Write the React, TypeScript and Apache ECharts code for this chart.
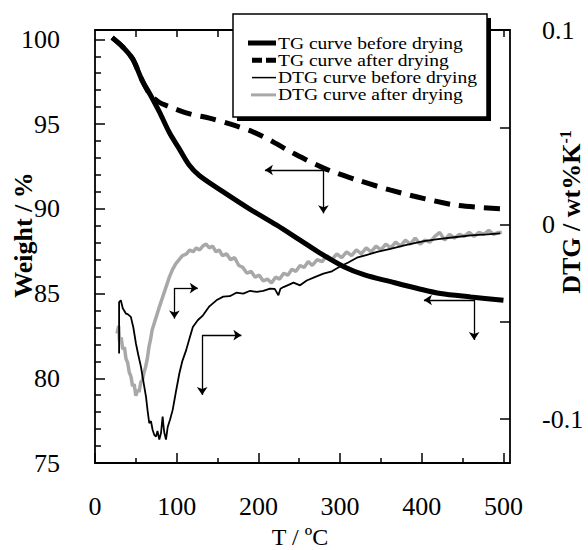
import React, { useEffect, useRef } from "react";
import * as echarts from "echarts";

// ---- data (T in °C) ----
const tgBeforeT = [21, 34, 46, 58, 68, 79, 91, 103, 115, 128, 157, 189, 222, 251, 275, 304, 330, 362, 395, 423, 460, 500];
const tgBeforeW = [100.1, 99.55, 98.85, 97.55, 96.7, 95.7, 94.5, 93.55, 92.6, 91.95, 91.0, 90.0, 89.05, 88.15, 87.4, 86.6, 86.1, 85.7, 85.3, 85.0, 84.8, 84.6];

const tgAfterT = [21, 34, 46, 58, 68, 78, 87, 116, 140, 169, 193, 218, 242, 280, 321, 362, 403, 444, 498];
const tgAfterW = [100.1, 99.55, 98.85, 97.55, 96.7, 96.3, 96.1, 95.6, 95.35, 94.95, 94.55, 93.95, 93.3, 92.4, 91.7, 91.1, 90.6, 90.2, 90.0];

const dtgBeforeT = [29.5, 29.5, 31.6, 34, 37.8, 40, 43.9, 47, 50.1, 53, 56.2, 59, 62.4, 64.5, 66.4, 68.5, 70.5, 72.5, 74.7, 76.5, 78.7, 80.8, 82, 82.8, 84, 84.9, 86.9, 89, 92, 95.1, 99, 103.3, 107, 111.6, 116, 119.8, 126, 132.2, 140, 148.6, 157, 165, 173, 181.4, 190, 197.9, 206, 214.3, 220, 224.5, 227, 230.7, 237, 243, 251, 259.2, 269, 279.6, 290, 300, 310, 320.6, 333, 345.3, 361.6, 380, 402.6, 420, 440, 460, 480, 496];
const dtgBeforeD = [-0.0662, -0.0398, -0.0389, -0.043, -0.0457, -0.046, -0.0474, -0.053, -0.0611, -0.067, -0.073, -0.08, -0.0884, -0.096, -0.102, -0.101, -0.1054, -0.108, -0.1089, -0.106, -0.1105, -0.1071, -0.102, -0.0986, -0.104, -0.107, -0.1105, -0.104, -0.1, -0.0952, -0.086, -0.0764, -0.07, -0.0645, -0.058, -0.0526, -0.049, -0.0466, -0.042, -0.0389, -0.037, -0.0368, -0.035, -0.0355, -0.034, -0.0346, -0.034, -0.0329, -0.033, -0.0363, -0.033, -0.0321, -0.031, -0.0298, -0.0312, -0.0287, -0.027, -0.0252, -0.024, -0.0215, -0.0195, -0.017, -0.0155, -0.014, -0.0125, -0.0105, -0.0085, -0.0075, -0.0065, -0.0055, -0.005, -0.0045];

const dtgAfterT = [27, 29, 30, 32, 34, 36, 38, 40, 42, 44, 46, 48, 50, 52, 54, 56, 58, 60, 62, 64, 66, 68, 70, 73, 76, 79, 83, 87, 91, 95, 99, 103, 107, 112, 116, 120, 124, 128, 132, 136, 140, 144, 148, 152, 156, 161, 166, 171, 176, 181, 186, 191, 196, 201, 206, 211, 216, 221, 226, 231, 236, 241, 246, 251, 256, 261, 266, 272, 278, 284, 290, 296, 302, 308, 314, 320, 326, 332, 338, 344, 350, 356, 362, 368, 374, 380, 386, 392, 398, 404, 410, 416, 422, 428, 434, 440, 446, 452, 458, 464, 470, 476, 482, 488, 494, 498];
const dtgAfterD = [-0.056, -0.052, -0.06, -0.058, -0.064, -0.063, -0.069, -0.071, -0.076, -0.078, -0.083, -0.082, -0.088, -0.085, -0.086, -0.081, -0.08, -0.076, -0.073, -0.069, -0.063, -0.059, -0.054, -0.05, -0.046, -0.042, -0.037, -0.032, -0.027, -0.023, -0.02, -0.018, -0.016, -0.015, -0.013, -0.014, -0.012, -0.013, -0.011, -0.01, -0.012, -0.011, -0.014, -0.013, -0.016, -0.015, -0.018, -0.017, -0.021, -0.022, -0.025, -0.024, -0.027, -0.026, -0.029, -0.028, -0.03, -0.027, -0.028, -0.025, -0.026, -0.023, -0.024, -0.021, -0.022, -0.019, -0.021, -0.018, -0.019, -0.016, -0.018, -0.015, -0.017, -0.014, -0.016, -0.013, -0.015, -0.012, -0.014, -0.011, -0.013, -0.01, -0.012, -0.009, -0.011, -0.008, -0.01, -0.007, -0.01, -0.008, -0.009, -0.006, -0.004, -0.008, -0.005, -0.007, -0.005, -0.006, -0.004, -0.006, -0.004, -0.005, -0.003, -0.005, -0.004, -0.004];

// ---- ticks ----
const xMajorTicks = [0, 100, 200, 300, 400, 500];
const xMinorTicks = [50, 150, 250, 350, 450];
const xTopTicks = [50, 100, 150, 200, 250, 300, 350, 400, 450, 500];
const wMajorTicks = [75, 80, 85, 90, 95, 100];
const wMinorTicks = [76, 77, 78, 79, 81, 82, 83, 84, 86, 87, 88, 89, 91, 92, 93, 94, 96, 97, 98, 99];
const dTicks = [-0.1, -0.05, 0, 0.05, 0.1];
const dLabels = [-0.1, 0, 0.1];

// ---- annotation arrows [from, to] in data units ----
const arrowTGAfter = [[[279.6, 92.29], [208, 92.29]], [[279.6, 92.48], [279.6, 89.73]]];
const arrowTGBefore = [[[464.1, 84.62], [402.6, 84.62]], [[464.1, 84.62], [464.1, 82.26]]];
const arrowDTGAfter = [[[97.2, -0.0326], [97.2, -0.0483]], [[97.2, -0.0326], [125.8, -0.0326]]];
const arrowDTGBefore = [[[131.2, -0.0568], [131.2, -0.0875]], [[131.2, -0.0568], [179.2, -0.0568]]];

const names = ["TG curve before drying", "TG curve after drying", "DTG curve before drying", "DTG curve after drying"];

const FONT = "Liberation Serif";
const GRAY = "#a8a8a8";

const zip = (a: number[], b: number[]) => a.map((v, i) => [v, b[i]]);

const arrows = (list: number[][][]) => ({
  silent: true,
  symbol: ["none", "arrow"],
  symbolSize: 8,
  label: { show: false },
  emphasis: { disabled: true },
  lineStyle: { color: "#000", width: 1.3, type: "solid" },
  data: list.map((seg) => [{ coord: seg[0] }, { coord: seg[1] }]),
});

// legend drawn as graphic: sample line styles per entry
const legendSamples = [
  { stroke: "#000", lineWidth: 5, lineDash: null as number[] | null, x1: 248 },
  { stroke: "#000", lineWidth: 5, lineDash: [10, 4], x1: 252 },
  { stroke: "#000", lineWidth: 1.5, lineDash: null, x1: 252 },
  { stroke: GRAY, lineWidth: 3, lineDash: null, x1: 251 },
];

export default function App() {
  const ref = useRef<HTMLDivElement>(null);
  useEffect(() => {
    const chart = echarts.init(ref.current!, null, { renderer: "svg" });
    const axisLine = { show: true, onZero: false, lineStyle: { color: "#000", width: 1.8 } };
    const noLine = { show: false, onZero: false };
    const tickStyle = { color: "#000", width: 1.5 };

    const legendTop = 43;
    const legendStep = 17.3;
    const legendGraphics: any[] = [];
    names.forEach((n, i) => {
      const y = legendTop + i * legendStep;
      const s = legendSamples[i];
      legendGraphics.push({
        type: "line", z: 7,
        shape: { x1: s.x1, y1: y, x2: 276, y2: y },
        style: { stroke: s.stroke, lineWidth: s.lineWidth, lineDash: s.lineDash || undefined },
      });
      legendGraphics.push({
        type: "text", z: 7, x: 278, y, scaleX: 1.15,
        style: { text: n, font: `17px ${FONT}`, fill: "#000", align: "left", verticalAlign: "middle" },
      });
    });

    const option: any = {
      animation: false,
      backgroundColor: "#fff",
      textStyle: { fontFamily: FONT },
      grid: { left: 95, right: 78, top: 30, bottom: 87, containLabel: false },
      xAxis: [
        {
          type: "value", min: 0, max: 508, position: "bottom",
          axisLine,
          axisTick: { show: true, inside: true, length: 10, customValues: xMajorTicks, lineStyle: tickStyle },
          axisLabel: { show: true, customValues: xMajorTicks, margin: 30, fontSize: 26, color: "#000", fontFamily: FONT },
          splitLine: { show: false },
        },
        {
          type: "value", min: 0, max: 508, position: "bottom",
          axisLine: noLine,
          axisTick: { show: true, inside: true, length: 5, customValues: xMinorTicks, lineStyle: tickStyle },
          axisLabel: { show: false },
          splitLine: { show: false },
        },
        {
          type: "value", min: 0, max: 508, position: "top",
          axisLine,
          axisTick: { show: true, inside: true, length: 7, customValues: xTopTicks, lineStyle: tickStyle },
          axisLabel: { show: false },
          splitLine: { show: false },
        },
      ],
      yAxis: [
        {
          type: "value", min: 75, max: 100.55, position: "left",
          axisLine,
          axisTick: { show: true, inside: true, length: 10, customValues: wMajorTicks, lineStyle: tickStyle },
          axisLabel: { show: true, customValues: wMajorTicks, margin: 35, fontSize: 26, color: "#000", fontFamily: FONT },
          splitLine: { show: false },
        },
        {
          type: "value", min: 75, max: 100.55, position: "left",
          axisLine: noLine,
          axisTick: { show: true, inside: true, length: 6, customValues: wMinorTicks, lineStyle: tickStyle },
          axisLabel: { show: false },
          splitLine: { show: false },
        },
        {
          type: "value", min: -0.1225, max: 0.1, position: "right",
          axisLine,
          axisTick: { show: true, inside: true, length: 10, customValues: dTicks, lineStyle: tickStyle },
          axisLabel: {
            show: true, customValues: dLabels, margin: 32, fontSize: 26, color: "#000", fontFamily: FONT,
            formatter: (v: number) => (Math.abs(v) < 1e-9 ? "0" : String(Math.round(v * 10) / 10)),
          },
          splitLine: { show: false },
        },
      ],
      graphic: [
        { type: "rect", z: 5, shape: { x: 237, y: 18, width: 254, height: 103 }, style: { fill: "#000" } },
        { type: "rect", z: 6, shape: { x: 233, y: 14, width: 254, height: 103 }, style: { fill: "#fff", stroke: "#000", lineWidth: 1.5 } },
        ...legendGraphics,
        {
          type: "text", z: 6, x: 23, y: 235, rotation: Math.PI / 2,
          style: { text: "Weight / %", font: `bold 26px ${FONT}`, fill: "#000", align: "center", verticalAlign: "middle" },
        },
        {
          type: "text", z: 6, x: 571, y: 212, rotation: Math.PI / 2,
          style: {
            text: "{a|DTG / wt%K}{b|-1}", fill: "#000", align: "center", verticalAlign: "middle",
            rich: {
              a: { fontFamily: FONT, fontWeight: "bold", fontSize: 26, fill: "#000", lineHeight: 28 },
              b: { fontFamily: FONT, fontWeight: "bold", fontSize: 16, fill: "#000", verticalAlign: "top", lineHeight: 28 },
            },
          },
        },
        {
          type: "text", z: 6, x: 300, y: 537,
          style: { text: "T / ºC", font: `24px ${FONT}`, fill: "#000", align: "center", verticalAlign: "middle" },
        },
      ],
      series: [
        {
          name: names[0], type: "line", xAxisIndex: 0, yAxisIndex: 0, symbol: "none", smooth: 0.3,
          data: zip(tgBeforeT, tgBeforeW), z: 3,
          lineStyle: { color: "#000", width: 5 }, itemStyle: { color: "#000" },
          markLine: arrows(arrowTGBefore),
        },
        {
          name: names[1], type: "line", xAxisIndex: 0, yAxisIndex: 0, symbol: "none", smooth: 0.3,
          data: zip(tgAfterT, tgAfterW), z: 3,
          lineStyle: { color: "#000", width: 5, type: [16, 9] }, itemStyle: { color: "#000" },
          markLine: arrows(arrowTGAfter),
        },
        {
          name: names[2], type: "line", xAxisIndex: 0, yAxisIndex: 2, symbol: "none",
          data: zip(dtgBeforeT, dtgBeforeD), z: 3,
          lineStyle: { color: "#000", width: 1.8 }, itemStyle: { color: "#000" },
          markLine: arrows(arrowDTGBefore),
        },
        {
          name: names[3], type: "line", xAxisIndex: 0, yAxisIndex: 2, symbol: "none",
          data: zip(dtgAfterT, dtgAfterD), z: 2,
          lineStyle: { color: GRAY, width: 3.5 }, itemStyle: { color: GRAY },
          markLine: arrows(arrowDTGAfter),
        },
      ],
    };
    chart.setOption(option);
    return () => chart.dispose();
  }, []);
  return <div ref={ref} style={{ position: "absolute", left: 0, top: 0, width: 588, height: 550 }} />;
}
